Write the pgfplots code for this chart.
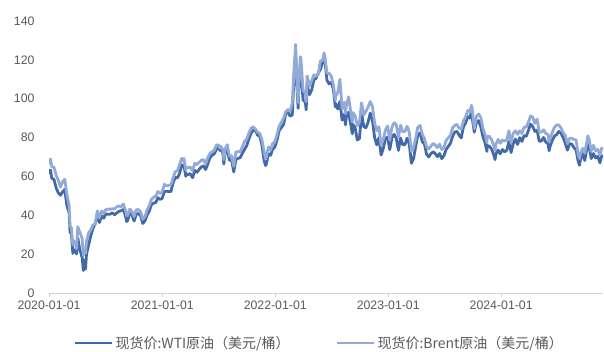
\documentclass[border=0pt]{standalone}
\usepackage{pgfplots}
\pgfplotsset{compat=1.18}
\usepgfplotslibrary{dateplot}
\usepackage{pgfplotstable}
\usepackage{fontspec}
\setmainfont{Liberation Sans}
\newfontfamily\cjk{Noto Sans CJK SC}
\definecolor{wti}{RGB}{66,106,166}
\definecolor{brent}{RGB}{146,170,216}
\definecolor{txt}{RGB}{89,89,89}
\definecolor{axl}{RGB}{210,210,210}

\pgfplotstableread{
date wti brent
2020-01-02 61.18 66.25
2020-01-03 63.05 68.60
2020-01-06 63.27 68.91
2020-01-10 59.04 64.98
2020-01-17 58.54 64.85
2020-01-24 54.19 60.69
2020-01-31 51.56 58.16
2020-02-07 50.32 54.47
2020-02-14 52.05 57.32
2020-02-21 53.38 58.50
2020-02-28 44.76 50.52
2020-03-06 41.28 45.27
2020-03-09 31.13 34.36
2020-03-13 31.73 33.85
2020-03-18 20.37 24.88
2020-03-20 22.43 26.98
2020-03-27 21.51 24.93
2020-03-30 20.09 22.76
2020-04-03 28.34 34.11
2020-04-09 22.76 31.48
2020-04-17 18.27 28.08
2020-04-21 11.57 19.33
2020-04-24 16.94 21.44
2020-04-28 12.34 20.46
2020-05-01 19.78 26.44
2020-05-08 24.74 30.97
2020-05-15 29.43 32.50
2020-05-22 33.25 35.13
2020-05-29 35.49 35.33
2020-06-05 39.55 42.30
2020-06-12 36.26 38.73
2020-06-19 39.75 42.19
2020-06-26 38.49 41.02
2020-07-02 40.65 42.80
2020-07-10 40.55 43.24
2020-07-17 40.59 43.14
2020-07-24 41.29 43.34
2020-07-31 40.27 43.30
2020-08-07 41.22 44.40
2020-08-14 42.01 44.80
2020-08-21 42.34 44.35
2020-08-28 42.97 45.81
2020-09-04 39.77 42.66
2020-09-08 36.76 39.78
2020-09-11 37.33 39.83
2020-09-18 41.11 43.15
2020-09-25 40.25 41.92
2020-10-02 37.05 39.27
2020-10-09 40.60 42.85
2020-10-16 40.88 42.93
2020-10-23 39.85 41.77
2020-10-30 35.79 37.94
2020-11-06 37.14 39.45
2020-11-13 40.13 42.78
2020-11-20 42.15 44.96
2020-11-27 45.53 48.18
2020-12-04 46.26 49.25
2020-12-11 46.57 49.97
2020-12-18 49.10 52.26
2020-12-24 48.23 51.29
2020-12-31 48.52 51.80
2021-01-08 52.24 55.99
2021-01-15 52.36 55.10
2021-01-22 52.27 55.41
2021-01-29 52.20 55.88
2021-02-05 56.85 59.34
2021-02-12 59.47 62.43
2021-02-19 59.24 62.91
2021-02-26 61.50 66.13
2021-03-05 66.09 69.36
2021-03-08 65.05 68.24
2021-03-12 65.61 69.22
2021-03-18 60.00 63.28
2021-03-19 61.42 64.53
2021-03-26 60.97 64.57
2021-04-01 61.45 64.86
2021-04-09 59.32 62.95
2021-04-16 63.13 66.77
2021-04-23 62.14 66.11
2021-04-30 63.58 67.25
2021-05-07 64.90 68.28
2021-05-14 65.37 68.71
2021-05-21 63.58 66.44
2021-05-28 66.32 69.63
2021-06-04 69.62 71.89
2021-06-11 70.91 72.69
2021-06-18 71.64 73.51
2021-06-25 74.05 76.18
2021-07-02 75.16 76.17
2021-07-06 73.37 74.53
2021-07-09 74.56 75.55
2021-07-16 71.81 73.59
2021-07-19 66.42 68.62
2021-07-23 72.07 74.10
2021-07-30 73.95 76.33
2021-08-06 68.28 70.70
2021-08-13 68.44 70.59
2021-08-20 62.32 65.18
2021-08-27 68.74 72.70
2021-09-03 69.29 72.61
2021-09-10 69.72 72.92
2021-09-17 71.97 75.34
2021-09-24 73.98 78.09
2021-10-01 75.88 79.28
2021-10-08 79.35 82.39
2021-10-15 82.28 84.86
2021-10-22 83.76 85.53
2021-10-29 83.57 84.38
2021-11-05 81.27 82.74
2021-11-12 80.79 82.17
2021-11-19 76.10 78.89
2021-11-26 68.15 72.72
2021-12-01 65.57 68.87
2021-12-03 66.26 69.88
2021-12-10 71.67 75.15
2021-12-17 70.86 73.52
2021-12-23 73.79 76.85
2021-12-31 75.21 77.78
2022-01-07 78.90 81.75
2022-01-14 83.82 86.06
2022-01-21 85.14 87.89
2022-01-28 86.82 90.03
2022-02-04 92.31 93.27
2022-02-11 93.10 94.44
2022-02-18 91.07 93.54
2022-02-25 91.59 97.93
2022-03-04 115.68 118.11
2022-03-08 123.70 127.98
2022-03-11 109.33 112.67
2022-03-16 95.04 98.02
2022-03-18 104.70 107.93
2022-03-23 114.93 121.60
2022-03-25 113.90 120.65
2022-04-01 99.27 104.39
2022-04-08 98.26 102.78
2022-04-11 94.29 98.48
2022-04-14 106.95 111.70
2022-04-22 102.07 106.65
2022-04-29 104.69 109.34
2022-05-06 109.77 112.39
2022-05-13 110.49 111.55
2022-05-20 113.23 112.55
2022-05-27 115.07 119.43
2022-06-03 118.87 119.72
2022-06-08 122.11 123.58
2022-06-10 120.67 122.01
2022-06-17 109.56 113.12
2022-06-24 107.62 113.12
2022-07-01 108.43 111.63
2022-07-08 104.79 107.02
2022-07-14 95.78 99.10
2022-07-15 97.59 101.16
2022-07-22 94.70 103.20
2022-07-29 98.62 110.01
2022-08-05 89.01 94.92
2022-08-12 92.09 98.15
2022-08-16 86.53 92.34
2022-08-19 90.77 96.72
2022-08-26 93.06 100.99
2022-09-02 86.87 93.02
2022-09-07 81.94 88.00
2022-09-09 86.79 92.84
2022-09-16 85.11 91.35
2022-09-23 78.74 86.15
2022-09-30 79.49 87.96
2022-10-07 92.64 97.92
2022-10-14 85.61 91.63
2022-10-21 85.05 93.50
2022-10-28 87.90 95.77
2022-11-04 92.61 98.57
2022-11-11 88.96 95.99
2022-11-18 80.08 87.62
2022-11-25 76.28 83.63
2022-12-02 79.98 85.57
2022-12-09 71.02 76.10
2022-12-16 74.29 79.04
2022-12-23 79.56 83.92
2022-12-30 80.26 85.91
2023-01-06 73.77 78.57
2023-01-13 79.86 85.28
2023-01-20 81.64 87.63
2023-01-27 79.68 86.66
2023-02-03 73.39 79.94
2023-02-10 79.72 86.39
2023-02-17 76.34 83.00
2023-02-24 76.32 83.16
2023-03-03 79.68 85.83
2023-03-10 76.68 82.78
2023-03-17 66.74 72.97
2023-03-24 69.26 74.99
2023-03-31 75.67 79.77
2023-04-06 80.70 85.12
2023-04-14 82.52 86.31
2023-04-21 77.87 81.66
2023-04-28 76.78 79.54
2023-05-05 71.34 75.30
2023-05-12 70.04 74.17
2023-05-19 71.69 75.58
2023-05-26 72.67 76.95
2023-06-02 71.74 76.13
2023-06-09 70.17 74.79
2023-06-16 71.78 76.61
2023-06-23 69.16 73.85
2023-06-30 70.64 74.90
2023-07-07 73.86 78.47
2023-07-14 75.42 79.87
2023-07-21 77.07 81.07
2023-07-28 80.58 84.99
2023-08-04 82.82 86.24
2023-08-11 83.19 86.81
2023-08-18 81.25 84.80
2023-08-25 79.83 84.48
2023-09-01 85.55 88.55
2023-09-08 87.51 90.65
2023-09-15 90.77 93.93
2023-09-22 90.03 93.27
2023-09-27 93.68 96.55
2023-09-29 90.79 95.31
2023-10-06 82.79 84.58
2023-10-13 87.69 90.89
2023-10-20 88.75 92.16
2023-10-27 85.54 90.48
2023-11-03 80.51 84.89
2023-11-10 77.17 81.43
2023-11-16 72.90 77.42
2023-11-17 75.89 80.61
2023-11-24 75.54 80.58
2023-12-01 74.07 78.88
2023-12-08 71.23 75.84
2023-12-12 68.61 73.24
2023-12-15 71.43 76.55
2023-12-22 73.56 79.07
2023-12-29 71.65 77.04
2024-01-05 73.81 78.76
2024-01-12 72.68 78.29
2024-01-19 73.41 78.56
2024-01-26 78.01 83.55
2024-02-02 72.28 77.33
2024-02-09 76.84 82.19
2024-02-16 79.19 83.47
2024-02-23 76.49 81.62
2024-03-01 79.97 83.55
2024-03-08 78.01 82.08
2024-03-15 81.04 85.34
2024-03-22 80.63 85.43
2024-03-28 83.17 87.48
2024-04-05 86.91 91.17
2024-04-12 85.66 90.45
2024-04-19 83.14 87.29
2024-04-26 83.85 89.50
2024-05-03 78.11 82.96
2024-05-10 78.26 82.79
2024-05-17 80.06 83.98
2024-05-24 77.72 82.12
2024-05-31 76.99 81.62
2024-06-04 73.25 77.52
2024-06-07 75.53 79.62
2024-06-14 78.45 82.62
2024-06-21 80.73 85.24
2024-06-28 81.54 86.41
2024-07-05 83.16 86.54
2024-07-12 82.21 85.03
2024-07-19 80.13 82.63
2024-07-26 77.16 81.13
2024-08-02 73.52 76.81
2024-08-09 76.84 79.66
2024-08-16 76.65 79.68
2024-08-23 74.83 79.02
2024-08-30 73.55 78.80
2024-09-06 67.67 71.06
2024-09-10 65.75 69.19
2024-09-13 68.65 71.61
2024-09-20 71.92 74.49
2024-09-27 68.18 71.98
2024-10-04 74.38 78.05
2024-10-07 77.14 80.93
2024-10-11 75.56 79.04
2024-10-18 69.22 73.06
2024-10-25 71.78 76.05
2024-11-01 69.49 73.10
2024-11-08 70.38 73.87
2024-11-15 67.02 71.04
2024-11-22 71.24 75.17
}\oil

\begin{document}
\begin{tikzpicture}
\begin{axis}[
  name=ax,
  scale only axis, width=554bp, height=272bp,
  date coordinates in=x, date ZERO=2020-01-01,
  xmin=2020-01-01, xmax=2024-11-25,
  ymin=0, ymax=140, ytick={0,20,...,140},
  xtick={2020-01-01,2021-01-01,2022-01-01,2023-01-01,2024-01-01},
  xticklabels={2020-01-01,2021-01-01,2022-01-01,2023-01-01,2024-01-01},
  axis x line*=bottom, axis y line*=left,
  x axis line style={draw=axl, line width=0.8bp},
  y axis line style={draw=none},
  xtick style={draw=axl, line width=0.8bp},
  major tick length=4bp, tick align=outside,
  ytick style={draw=none},
  /pgf/number format/assume math mode=true,
  ticklabel style={font=\fontsize{12.3bp}{14bp}\selectfont, text=txt},
  yticklabel style={xshift=-7bp},
  legend style={at={(0.488,-0.184)}, anchor=center, draw=none, fill=none,
    legend columns=2, font=\cjk\fontsize{14bp}{16bp}\selectfont, text=txt,
    /tikz/every even column/.append style={column sep=44bp}},
  legend image code/.code={\draw[#1] (0bp,0bp) -- (37bp,0bp);},
]
\addplot[wti, line width=2.8bp, line join=round] table[x=date,y=wti]{\oil};
\addplot[brent, line width=2.8bp, line join=round] table[x=date,y=brent]{\oil};
\legend{现货价:WTI原油（美元/桶）, 现货价:Brent原油（美元/桶）}
\end{axis}
\pgfresetboundingbox
\path[use as bounding box] ([shift={(-49bp,-59bp)}]ax.south west) rectangle ([shift={(1bp,21bp)}]ax.north east);
\end{tikzpicture}
\end{document}
